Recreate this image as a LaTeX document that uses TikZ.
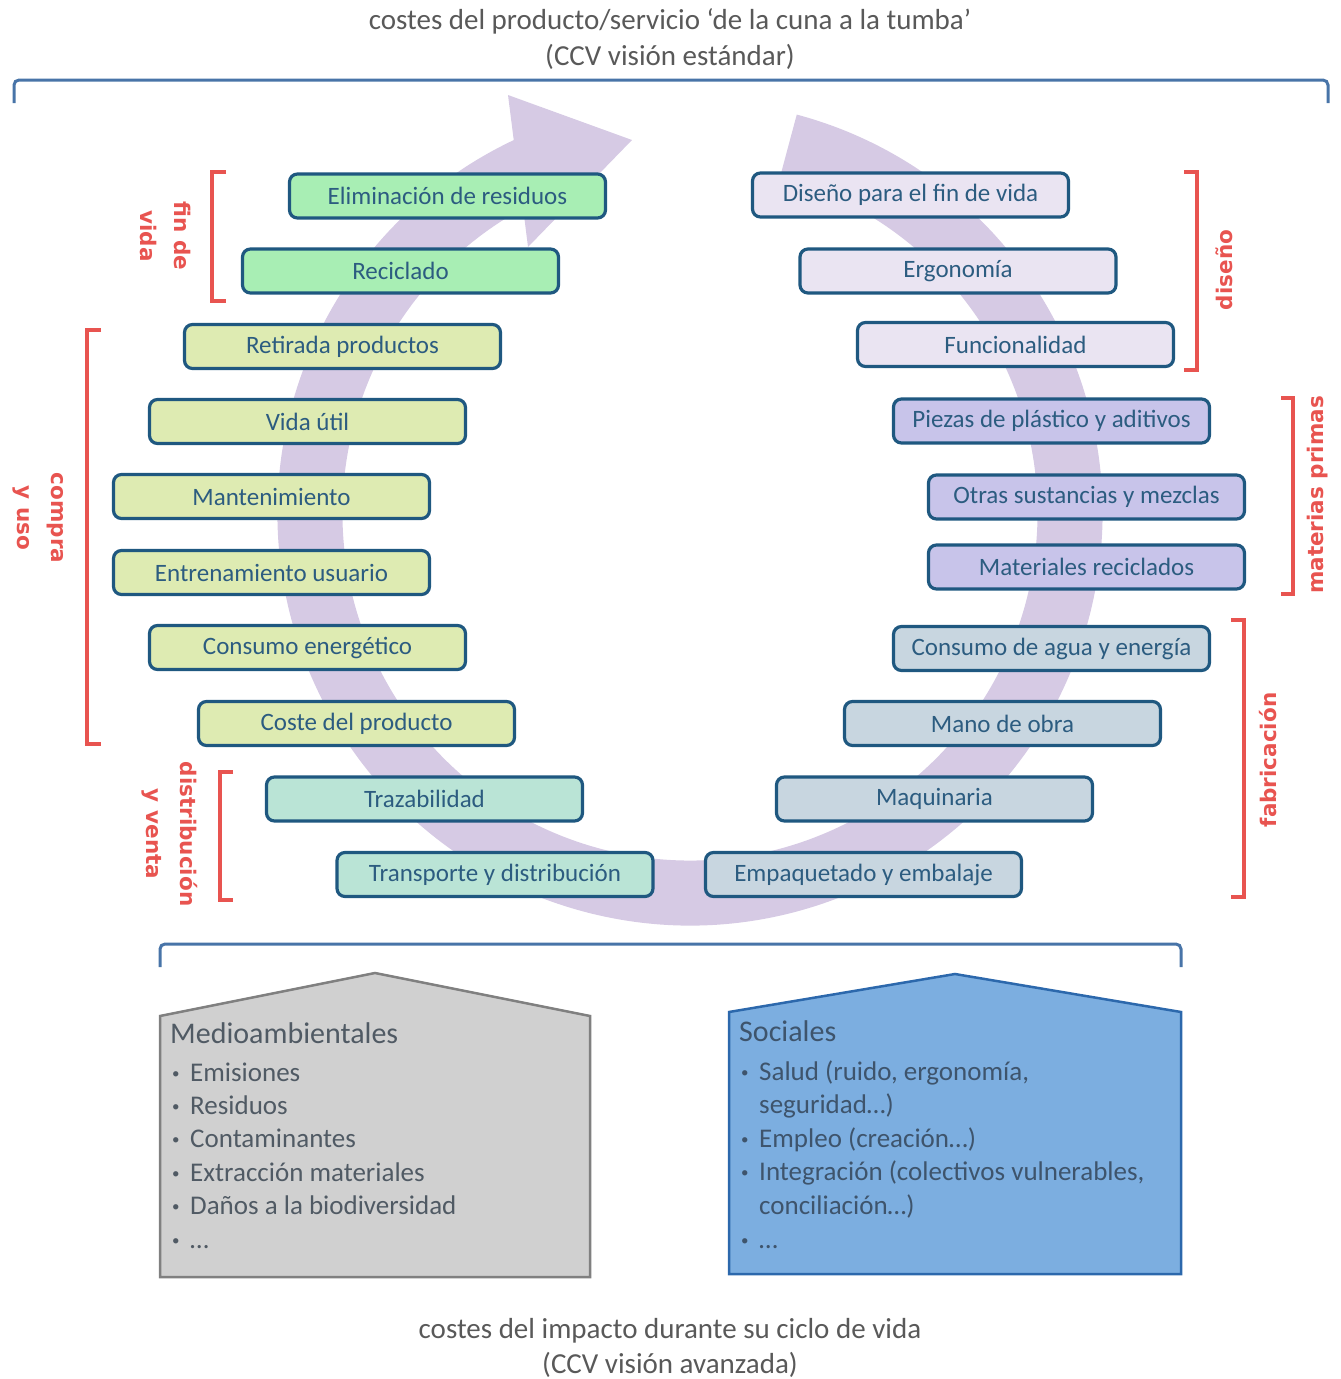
\documentclass[tikz,border=0pt]{standalone}
\usepackage{fontspec}
\setmainfont{Carlito}
\newfontfamily\phasefont{DejaVu Sans}
\usetikzlibrary{calc}

\definecolor{arrowfill}{RGB}{214,202,228}
\definecolor{boxline}{RGB}{31,88,128}
\definecolor{boxtext}{RGB}{44,92,128}
\definecolor{fillA}{RGB}{168,238,180}
\definecolor{fillB}{RGB}{222,235,178}
\definecolor{fillC}{RGB}{186,228,214}
\definecolor{fillD}{RGB}{234,228,242}
\definecolor{fillE}{RGB}{200,196,234}
\definecolor{fillF}{RGB}{200,214,224}
\definecolor{phasered}{RGB}{232,84,80}
\definecolor{spanblue}{RGB}{72,116,168}
\definecolor{titlegray}{RGB}{89,89,89}
\definecolor{envfill}{RGB}{208,208,208}
\definecolor{envline}{RGB}{128,128,128}
\definecolor{envtext}{RGB}{80,90,100}
\definecolor{socfill}{RGB}{124,174,224}
\definecolor{socline}{RGB}{44,104,172}
\definecolor{soctext}{RGB}{62,84,108}

% small list bullet followed by a fixed gap
\newcommand{\listdot}{\makebox[20pt][l]{\hspace{2pt}\raisebox{3pt}{\fontsize{15}{15}\selectfont •}}}

\begin{document}
\begin{tikzpicture}[x=1pt,y=1pt,
  stage/.style={draw=boxline, line width=3.2pt, rounded corners=8pt,
    minimum width=316pt, minimum height=44pt, inner sep=0pt,
    text=boxtext, font=\fontsize{25}{30}\selectfont},
  phase/.style={text=phasered, align=center, inner sep=0pt,
    font=\phasefont\bfseries\fontsize{21.5}{34}\selectfont},
  phasebar/.style={draw=phasered, line width=3.5pt},
  span/.style={draw=spanblue, line width=3pt, rounded corners=5pt},
  caption/.style={text=titlegray, anchor=base, inner sep=0pt,
    font=\fontsize{29}{34}\selectfont},
  item/.style={anchor=base west, inner sep=0pt, font=\fontsize{27}{33}\selectfont},
  head/.style={anchor=base west, inner sep=0pt, font=\fontsize{30}{36}\selectfont}
]
\useasboundingbox (0,0) rectangle (1341,-1379);

% titles
\node[caption] (toptitle1) at (670,-29) {costes del producto/servicio ‘de la cuna a la tumba’};
\node[caption] (toptitle2) at (670,-65) {(CCV visión estándar)};
\node[caption] (bottitle1) at (670,-1338) {costes del impacto durante su ciclo de vida};
\node[caption] (bottitle2) at (670,-1373) {(CCV visión avanzada)};

% spanning brackets
\draw[span] (14,-103) -- (14,-80) -- (1328,-80) -- (1328,-103);
\draw[span] (160,-967) -- (160,-944) -- (1181,-944) -- (1181,-967);

% life-cycle circular arrow
\coordinate (hub) at (690,-513);
\fill[arrowfill] ($(hub)+(75:412.5)$) arc[start angle=75, end angle=-244.7, radius=412.5]
  -- (508,-95) -- (632,-140) -- (528,-247)
  -- ($(hub)+(-241.3:347.5)$) arc[start angle=-241.3, end angle=75, radius=347.5] -- cycle;

% left column of stages
\node[stage, fill=fillA] (elim)  at (447.5,-196)  {Eliminación de residuos};
\node[stage, fill=fillA] (recic) at (400.5,-271)  {Reciclado};
\node[stage, fill=fillB] (retir) at (342.5,-346.5){Retirada productos};
\node[stage, fill=fillB] (vida)  at (307.5,-421.5){Vida útil};
\node[stage, fill=fillB] (mant)  at (271.5,-496.5){Mantenimiento};
\node[stage, fill=fillB] (entr)  at (271.5,-572.5){Entrenamiento usuario};
\node[stage, fill=fillB] (cene)  at (307.5,-647.5){Consumo energético};
\node[stage, fill=fillB] (coste) at (356.5,-723.5){Coste del producto};
\node[stage, fill=fillC] (traz)  at (424.5,-799)  {Trazabilidad};
\node[stage, fill=fillC] (trans) at (495,-874.5)  {Transporte y distribución};

% right column of stages
\node[stage, fill=fillD] (disen) at (910.5,-195)  {Diseño para el fin de vida};
\node[stage, fill=fillD] (ergo)  at (958,-271)    {Ergonomía};
\node[stage, fill=fillD] (func)  at (1015.5,-344.5){Funcionalidad};
\node[stage, fill=fillE] (piez)  at (1051.5,-421) {Piezas de plástico y aditivos};
\node[stage, fill=fillE] (otras) at (1086.5,-497) {Otras sustancias y mezclas};
\node[stage, fill=fillE] (matr)  at (1086.5,-567) {Materiales reciclados};
\node[stage, fill=fillF] (cagua) at (1051.5,-648.5){Consumo de agua y energía};
\node[stage, fill=fillF] (mano)  at (1002.5,-723.5){Mano de obra};
\node[stage, fill=fillF] (maq)   at (934.5,-799)  {Maquinaria};
\node[stage, fill=fillF] (empaq) at (863.5,-874.5){Empaquetado y embalaje};

% phase brackets and labels
\draw[phasebar] (226,-172) -- (212,-172) -- (212,-301) -- (226,-301);
\node[phase, rotate=-90] (pfin) at (166,-236) {fin de\\vida};
\draw[phasebar] (101,-330) -- (87,-330) -- (87,-744) -- (101,-744);
\node[phase, rotate=-90] (puso) at (38,-518) {compra\\y uso};
\draw[phasebar] (233,-772) -- (220,-772) -- (220,-900) -- (233,-900);
\node[phase, rotate=-90] (pdist) at (170,-834) {distribución\\y venta};
\draw[phasebar] (1184,-172) -- (1197,-172) -- (1197,-370) -- (1184,-370);
\node[phase, rotate=90] (pdis) at (1224,-270) {diseño};
\draw[phasebar] (1281,-398) -- (1293,-398) -- (1293,-594) -- (1281,-594);
\node[phase, rotate=90] (pmat) at (1318,-495) {materias primas};
\draw[phasebar] (1231,-620) -- (1244,-620) -- (1244,-897) -- (1231,-897);
\node[phase, rotate=90] (pfab) at (1268,-760) {fabricación};

% impact categories
\draw[fill=envfill, draw=envline, line width=2.5pt]
  (160,-1016) -- (375,-973) -- (590,-1016) -- (590,-1277) -- (160,-1277) -- cycle;
\node[head, text=envtext] (envhead) at (170,-1043) {Medioambientales};
\foreach \t [count=\i] in {Emisiones, Residuos, Contaminantes, Extracción materiales,
    Daños a la biodiversidad, …}
  \node[item, text=envtext] (env\i) at (170,-1081-33.4*\i+33.4) {\listdot\t};

\draw[fill=socfill, draw=socline, line width=2.5pt]
  (729,-1012) -- (955,-974) -- (1181,-1012) -- (1181,-1274) -- (729,-1274) -- cycle;
\node[head, text=soctext] (sochead) at (739,-1041) {Sociales};
\node[item, text=soctext] (soc1) at (739,-1080) {\listdot Salud (ruido, ergonomía,};
\node[item, text=soctext] (soc2) at (759,-1113) {seguridad…)};
\node[item, text=soctext] (soc3) at (739,-1147) {\listdot Empleo (creación…)};
\node[item, text=soctext] (soc4) at (739,-1180) {\listdot Integración (colectivos vulnerables,};
\node[item, text=soctext] (soc5) at (759,-1214) {conciliación…)};
\node[item, text=soctext] (soc6) at (739,-1248) {\listdot …};
\end{tikzpicture}
\end{document}
